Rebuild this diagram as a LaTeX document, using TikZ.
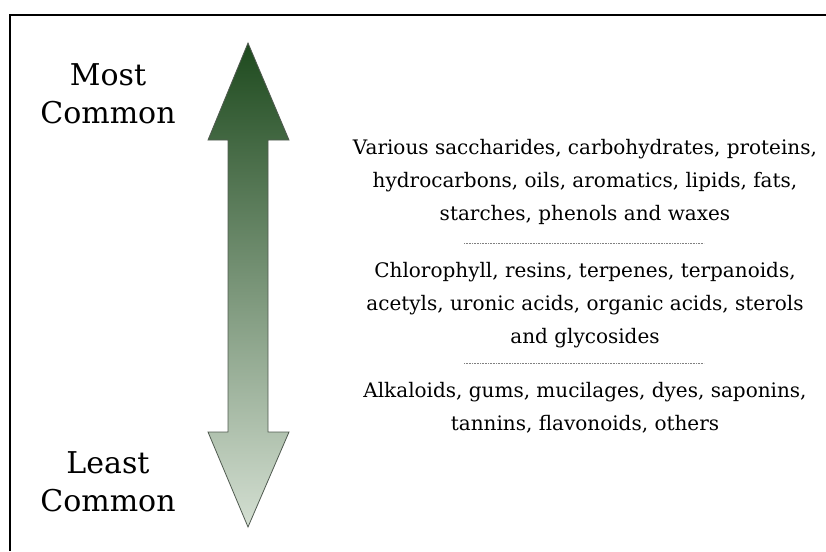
\documentclass[tikz,border=0pt]{standalone}
\usepackage{fontspec}
\setmainfont{DejaVu Serif}
\usepackage{tikz}
\usetikzlibrary{positioning,calc}

\definecolor{leafdark}{RGB}{30,74,30}
\definecolor{leaflight}{RGB}{212,223,210}
\definecolor{rimgray}{RGB}{80,90,80}

\begin{document}
\begin{tikzpicture}[
  x=1pt, y=-1pt,
  every node/.style={align=center, inner sep=0pt},
  endlabel/.style={font=\fontsize{30}{38}\selectfont},
  group/.style={font=\fontsize{20}{33}\selectfont},
  sep/.style={densely dotted, line width=0.6pt, gray}
]
\useasboundingbox (0,0) rectangle (826,551);

% frame
\draw[line width=2pt] (10,551) -- (10,15) -- (826,15);

% gradient arrow
\shade[top color=leafdark, bottom color=leaflight, draw=rimgray, line width=0.8pt]
  (248,43) -- (289,140) -- (268,140) -- (268,432) -- (289,432) -- (248,527)
  -- (208,432) -- (228,432) -- (228,140) -- (208,140) -- cycle;

\node[endlabel] (most)  at (108,94)  {Most\\Common};
\node[endlabel] (least) at (108,482) {Least\\Common};

\node[group] (high) at (585,182) {Various saccharides, carbohydrates, proteins,\\
  hydrocarbons, oils, aromatics, lipids, fats,\\starches, phenols and waxes};
\node[group] (mid)  at (585,305) {Chlorophyll, resins, terpenes, terpanoids,\\
  acetyls, uronic acids, organic acids, sterols\\and glycosides};
\node[group] (low)  at (585,408) {Alkaloids, gums, mucilages, dyes, saponins,\\
  tannins, flavonoids, others};

\coordinate (sepA) at (584,243);
\coordinate (sepB) at (584,363);
\draw[sep] ($(sepA)+(-120,0)$) -- ($(sepA)+(120,0)$);
\draw[sep] ($(sepB)+(-120,0)$) -- ($(sepB)+(120,0)$);
\end{tikzpicture}
\end{document}
